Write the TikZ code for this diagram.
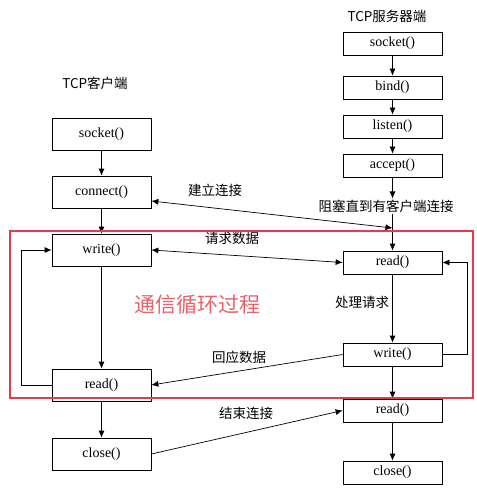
\documentclass[tikz,border=0pt]{standalone}
\usepackage{fontspec}
\setmainfont{Liberation Serif}
\newfontfamily\cjk{Noto Sans CJK SC}
\usetikzlibrary{arrows.meta}
\definecolor{loopred}{RGB}{228,60,72}
\definecolor{looptext}{RGB}{236,96,104}

\begin{document}
\begin{tikzpicture}[x=1pt,y=-1pt,>={Latex[length=7pt,width=6pt]},
  func/.style={draw,line width=0.7pt,minimum width=99pt,inner sep=0pt,font=\fontsize{14}{14}\selectfont},
  cli/.style={func,minimum height=32pt},
  srv/.style={func,minimum height=23pt},
  lbl/.style={inner sep=1pt,font=\cjk\fontsize{13.5}{13.5}\selectfont},
  link/.style={line width=0.7pt}]

\useasboundingbox (0,0) rectangle (476,489);

% client side
\node [lbl] (ctitle) at (95,83) {TCP客户端};
\node [cli] (csocket) at (101.5,134) {socket()};
\node [cli] (cconnect) at (101.5,192) {connect()};
\node [cli] (cwrite) at (101.5,250) {write()};
\node [cli] (cread) at (101.5,385) {read()};
\node [cli] (cclose) at (101.5,454) {close()};

% server side
\node [lbl] (stitle) at (387,16) {TCP服务器端};
\node [srv] (ssocket) at (392.5,43.5) {socket()};
\node [srv] (sbind) at (392.5,87.5) {bind()};
\node [srv] (slisten) at (392.5,126.5) {listen()};
\node [srv] (saccept) at (392.5,165.5) {accept()};
\node [srv] (sread) at (392.5,262.5) {read()};
\node [srv] (swrite) at (392.5,354.5) {write()};
\node [srv] (sreadend) at (392.5,410.5) {read()};
\node [srv] (sclose) at (392.5,472.5) {close()};

% labels
\node [lbl] (lconnect) at (215,190) {建立连接};
\node [lbl] (lblock) at (386,206) {阻塞直到有客户端连接};
\node [lbl] (lrequest) at (232,238) {请求数据};
\node [lbl] (lprocess) at (362,302) {处理请求};
\node [lbl] (lreply) at (239,357) {回应数据};
\node [lbl] (lend) at (246,413) {结束连接};
\node [font=\cjk\fontsize{21}{21}\selectfont,text=looptext] (lloop) at (197,305) {通信循环过程};

\coordinate (join) at (392.5,228);

% client arrows
\draw [link,->] (csocket) -- (cconnect);
\draw [link,->] (cconnect) -- (cwrite);
\draw [link,->] (cwrite) -- (cread);
\draw [link,->] (cread) -- (cclose);
\draw [link,->] (cread.west) -- ++(-30,0) |- (cwrite.west);

% server arrows
\draw [link,->] (ssocket) -- (sbind);
\draw [link,->] (sbind) -- (slisten);
\draw [link,->] (slisten) -- (saccept);
\draw [link,->] (saccept.south) -- (saccept.south |- lblock.north);
\draw [link] (saccept.south |- lblock.south) -- (join);
\draw [link,->] (join) -- (sread);
\draw [link,->] (sread) -- (swrite);
\draw [link,->] (swrite) -- (sreadend);
\draw [link,->] (sreadend) -- (sclose);
\draw [link,->] (swrite.east) -- ++(25,0) |- (sread.east);

% between the two sides
\draw [link,<->] ([yshift=-9pt]cconnect.east) -- (join);
\draw [link,<->] (cwrite.east) -- (sread.west);
\draw [link,->] (swrite.west) -- (cread.east);
\draw [link,->] (cclose.east) -- (sreadend.west);

\draw [loopred,line width=2.8pt] (10,231) rectangle (473,398);
\end{tikzpicture}
\end{document}
